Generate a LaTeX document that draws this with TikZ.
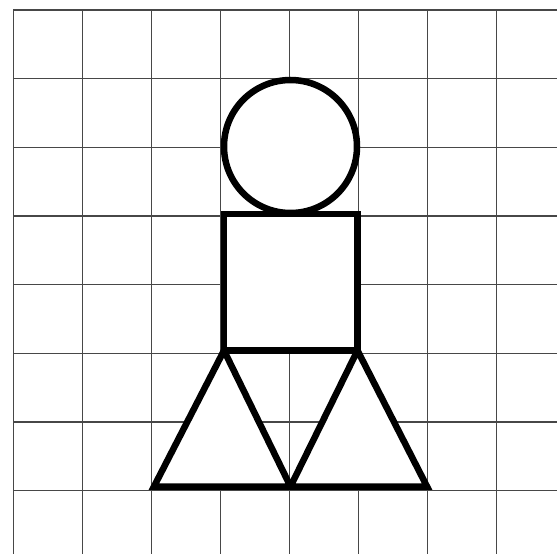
\documentclass[tikz,border=0pt]{standalone}
\begin{document}
\begin{tikzpicture}[x=1pt,y=-1pt,
  gridline/.style={draw=black!72,line width=1.3pt},
  figline/.style={draw=black,fill=white,line width=6.5pt,line join=miter}]
\useasboundingbox (0,0) rectangle (557,554);
\fill[white] (0,0) rectangle (557,554);
% grid
\foreach \i in {0,...,7}{
  \draw[gridline] ({13.3+69.05*\i},10) -- ({13.3+69.05*\i},554);
  \draw[gridline] (13.3,{10+68.67*\i}) -- (557,{10+68.67*\i});
}
% key points
\coordinate (c) at (290.5,146.5);
\coordinate (sqtl) at (224.0,214.0);
\coordinate (sqtr) at (357.5,214.0);
\coordinate (sqbl) at (224.0,350.5);
\coordinate (sqbr) at (357.5,350.5);
\coordinate (bl) at (154.0,486.5);
\coordinate (bm) at (290.5,486.5);
\coordinate (br) at (427.0,486.5);
% legs
\draw[figline] (sqbl) -- (bl) -- (bm) -- cycle;
\draw[figline] (sqbr) -- (bm) -- (br) -- cycle;
% head
\draw[figline] (c) circle (66.5);
% body
\draw[figline] (sqtl) -- (sqtr) -- (sqbr) -- (sqbl) -- cycle;
\end{tikzpicture}
\end{document}
